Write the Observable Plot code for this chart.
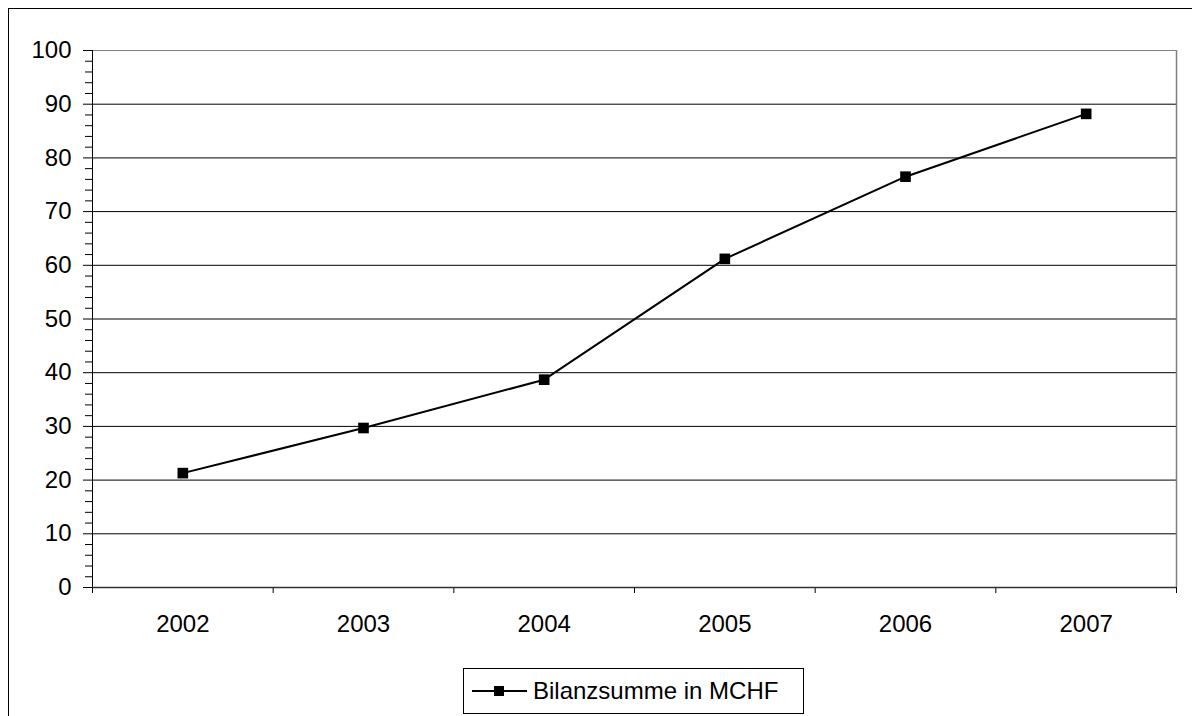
<!DOCTYPE html>
<html>
<head>
<meta charset="utf-8">
<script src="https://cdn.jsdelivr.net/npm/d3@7"></script>
<script src="https://cdn.jsdelivr.net/npm/@observablehq/plot@0.6"></script>
<style>
  html, body { margin: 0; padding: 0; background: #fff; overflow: hidden; }
  #frame { position: absolute; left: 8px; top: 8px; width: 1220px; height: 740px; border: 1px solid #000; box-sizing: border-box; }
  #chart { position: absolute; left: 0; top: 0; }
  #legend { position: absolute; left: 463px; top: 668px; width: 341px; height: 46px; border: 1px solid #000; box-sizing: border-box; background: #fff;
    font-family: "Liberation Sans", Arial, sans-serif; font-size: 24px; color: #000; display: flex; align-items: center; }
  #legend svg { margin-left: 8px; margin-right: 6px; }
</style>
</head>
<body>
<div id="frame"></div>
<div id="chart"></div>
<div id="legend"></div>
<script>
const years = [2002, 2003, 2004, 2005, 2006, 2007];
const values = [21.3, 29.7, 38.7, 61.2, 76.5, 88.2];
const seriesName = "Bilanzsumme in MCHF";
const majorTicks = [0, 10, 20, 30, 40, 50, 60, 70, 80, 90, 100];
const minorTicks = [2,4,6,8,12,14,16,18,22,24,26,28,32,34,36,38,42,44,46,48,52,54,56,58,62,64,66,68,72,74,76,78,82,84,86,88,92,94,96,98];
const gridValues = [10, 20, 30, 40, 50, 60, 70, 80, 90];
const categoryBounds = [2001.5, 2002.5, 2003.5, 2004.5, 2005.5, 2006.5, 2007.5];

const data = years.map((y, i) => ({year: y, value: values[i]}));

const chart = Plot.plot({
  width: 1192,
  height: 650,
  marginLeft: 92,
  marginTop: 50,
  marginRight: 16,
  marginBottom: 63,
  style: {fontFamily: "'Liberation Sans', Arial, sans-serif", fontSize: "24px", color: "#000", background: "transparent"},
  x: {type: "linear", domain: [2001.5, 2007.5]},
  y: {domain: [0, 100]},
  marks: [
    Plot.ruleY(gridValues, {stroke: "#000", strokeWidth: 1}),
    Plot.ruleY([100], {stroke: "#808080", strokeWidth: 1}),
    Plot.ruleX([2007.5], {stroke: "#808080", strokeWidth: 1.5}),
    Plot.axisY({ticks: minorTicks, tickSize: 7, tickFormat: () => "", label: null, strokeOpacity: 1}),
    Plot.axisY({ticks: majorTicks, tickSize: 9, tickPadding: 12, label: null, strokeOpacity: 1, fontSize: 24}),
    Plot.axisX({ticks: categoryBounds, tickSize: 6, tickFormat: () => "", label: null, strokeOpacity: 1}),
    Plot.axisX({ticks: years, tickSize: 0, tickPadding: 27, tickFormat: d => String(d), label: null, fontSize: 24}),
    Plot.ruleX([2001.5], {stroke: "#000", strokeWidth: 1}),
    Plot.ruleY([0], {stroke: "#333", strokeWidth: 1.5}),
    Plot.line(data, {x: "year", y: "value", stroke: "#000", strokeWidth: 2}),
    Plot.dot(data, {x: "year", y: "value", symbol: "square", fill: "#000", stroke: "none", r: 6})
  ]
});
document.getElementById("chart").appendChild(chart);

// Legend
const legend = document.getElementById("legend");
const sw = d3.create("svg").attr("width", 55).attr("height", 14);
sw.append("line").attr("x1", 0).attr("x2", 55).attr("y1", 7).attr("y2", 7).attr("stroke", "#000").attr("stroke-width", 2);
sw.append("rect").attr("x", 22).attr("y", 2).attr("width", 10).attr("height", 10).attr("fill", "#000");
legend.appendChild(sw.node());
const lt = document.createElement("span");
lt.textContent = seriesName;
legend.appendChild(lt);
</script>
</body>
</html>
